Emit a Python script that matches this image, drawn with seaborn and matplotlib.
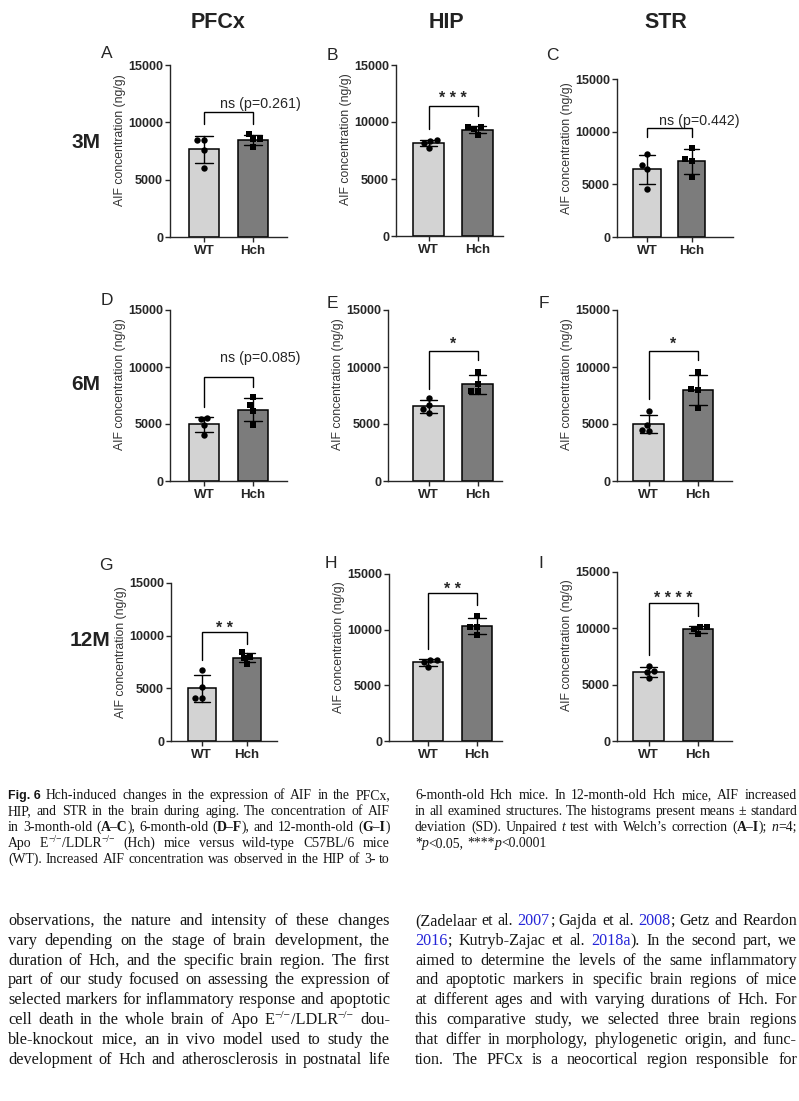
import re

import matplotlib
matplotlib.use("Agg")
import matplotlib.pyplot as plt
import matplotlib.transforms as mtransforms
import pandas as pd
import seaborn as sns

W, H = 799, 1101

GROUPS = ["WT", "Hch"]
BAR_COLORS = ["#d3d3d3", "#7c7c7c"]
MARKERS = ["o", "s"]

# AIF concentration (ng/g), n = 4 mice per group
A_WT = [8500, 8500, 7570, 6030]
A_HCH = [8970, 8510, 8510, 7860]
B_WT = [8400, 8350, 8150, 7750]
B_HCH = [9600, 9550, 9350, 8850]
C_WT = [7870, 6820, 6410, 4540]
C_HCH = [8470, 7360, 7170, 5680]
D_WT = [5550, 5400, 4900, 4050]
D_HCH = [7340, 6670, 6150, 4910]
E_WT = [7250, 6650, 6300, 5950]
E_HCH = [9590, 8480, 7900, 7900]
F_WT = [6150, 4950, 4450, 4400]
F_HCH = [9590, 8040, 7950, 6370]
G_WT = [6750, 5170, 4060, 4060]
G_HCH = [8440, 8020, 7870, 7330]
H_WT = [7300, 7250, 7100, 6650]
H_HCH = [11260, 10270, 10200, 9520]
I_WT = [6700, 6200, 6100, 5550]
I_HCH = [10150, 10100, 9950, 9500]

PANEL_DATA = {
    "A": (A_WT, A_HCH), "B": (B_WT, B_HCH), "C": (C_WT, C_HCH),
    "D": (D_WT, D_HCH), "E": (E_WT, E_HCH), "F": (F_WT, F_HCH),
    "G": (G_WT, G_HCH), "H": (H_WT, H_HCH), "I": (I_WT, I_HCH),
}

# significance label, label x, label y, bracket top, WT leg end, Hch leg end
SIGNIF = {
    "A": ("ns (p=0.261)", 1.15, 11740, 10860, 9850, 9850),
    "B": ("* * *", 0.5, 12437, 11417, 9378, 10544),
    "C": ("ns (p=0.442)", 1.17, 11099, 10306, 9450, 9450),
    "D": ("ns (p=0.085)", 1.15, 10877, 9094, 6520, 8216),
    "E": ("*", 0.5, 12368, 11404, 8070, 10614),
    "F": ("*", 0.5, 12368, 11404, 7164, 10614),
    "G": ("* *", 0.5, 11131, 10307, 7706, 9228),
    "H": ("* *", 0.5, 14072, 13263, 8263, 12216),
    "I": ("* * * *", 0.5, 13106, 12219, 7604, 11095),
}

COLUMNS = ["PFCx", "HIP", "STR"]
ROWS = ["3M", "6M", "12M"]

# layout in pixels: y-axis x, x-axis end, y of 15000, y of 0, WT centre, Hch centre
LAYOUT = {
    "A": (170, 287, 65, 237, 204, 253),
    "B": (396, 503, 65, 236, 428.5, 477.5),
    "C": (617, 733, 79, 237, 647, 691.5),
    "D": (170, 287, 310, 481, 204, 253),
    "E": (388, 502, 310, 481, 428.5, 477.5),
    "F": (617, 732, 310, 481, 648.7, 698),
    "G": (171, 277, 583, 741, 201.7, 247),
    "H": (389, 502, 574, 741, 428, 477),
    "I": (617, 732, 572, 741, 648.7, 698),
}
LETTER_POS = {
    "A": (107, 54), "B": (332, 55), "C": (552, 55),
    "D": (107, 301), "E": (332, 303), "F": (544, 303),
    "G": (106, 566), "H": (331, 564), "I": (541, 564),
}
COLUMN_POS = [(218, 22), (446, 22), (666, 22)]
ROW_POS = [(86, 143), (86, 384), (90, 640)]

CAPTION_LEFT = [
    "{f:Fig. 6} Hch-induced changes in the expression of AIF in the PFCx,",
    "HIP, and STR in the brain during aging. The concentration of AIF",
    "in 3-month-old ({b:A–C}), 6-month-old ({b:D–F}), and 12-month-old ({b:G–I})",
    "Apo E{s:−/−}/LDLR{s:−/−} (Hch) mice versus wild-type C57BL/6 mice",
    "(WT). Increased AIF concentration was observed in the HIP of 3- to",
]
CAPTION_RIGHT = [
    "6-month-old Hch mice. In 12-month-old Hch mice, AIF increased",
    "in all examined structures. The histograms present means ± standard",
    "deviation (SD). Unpaired {i:t} test with Welch’s correction ({b:A–I}); {i:n}=4;",
    "*{i:p}<0.05, ****{i:p}<0.0001",
]
BODY_LEFT = [
    "observations, the nature and intensity of these changes",
    "vary depending on the stage of brain development, the",
    "duration of Hch, and the specific brain region. The first",
    "part of our study focused on assessing the expression of",
    "selected markers for inflammatory response and apoptotic",
    "cell death in the whole brain of Apo E{s:−/−}/LDLR{s:−/−} dou-",
    "ble-knockout mice, an in vivo model used to study the",
    "development of Hch and atherosclerosis in postnatal life",
]
BODY_RIGHT = [
    "(Zadelaar et al. {c:2007}; Gajda et al. {c:2008}; Getz and Reardon",
    "{c:2016}; Kutryb-Zajac et al. {c:2018a}). In the second part, we",
    "aimed to determine the levels of the same inflammatory",
    "and apoptotic markers in specific brain regions of mice",
    "at different ages and with varying durations of Hch. For",
    "this comparative study, we selected three brain regions",
    "that differ in morphology, phylogenetic origin, and func-",
    "tion. The PFCx is a neocortical region responsible for",
]
CAPTION_Y = [799, 815, 831, 847, 863]
BODY_Y = [925, 945, 965, 984, 1004, 1024, 1044, 1064]

sns.set_style("ticks")
plt.rcParams["font.family"] = ["Liberation Sans", "DejaVu Sans"]
plt.rcParams["axes.linewidth"] = 1.0

fig = plt.figure(figsize=(W / 100, H / 100), dpi=100)
renderer = fig.canvas.get_renderer()


def fx(x):
    return x / W


def fy(y):
    return 1 - y / H


def draw_panel(key):
    wt, hch = PANEL_DATA[key]
    yax, xend, top, bot, c0, c1 = LAYOUT[key]
    ax = fig.add_axes([fx(yax), fy(bot), (xend - yax) / W, (bot - top) / H])
    df = pd.DataFrame({"group": ["WT"] * len(wt) + ["Hch"] * len(hch),
                       "AIF": wt + hch})
    sns.barplot(data=df, x="group", y="AIF", hue="group", order=GROUPS,
                hue_order=GROUPS, palette=BAR_COLORS, errorbar="sd",
                capsize=0.35, width=0.62, edgecolor="black", linewidth=1.1,
                err_kws={"color": "black", "linewidth": 1.0}, legend=False, ax=ax)
    for g, m in zip(GROUPS, MARKERS):
        sns.swarmplot(data=df[df["group"] == g], x="group", y="AIF", order=GROUPS,
                      marker=m, color="black", size=4.6, linewidth=0, ax=ax)

    unit = c1 - c0
    ax.set_xlim((yax - c0) / unit, 1 + (xend - c1) / unit)
    ax.set_ylim(0, 15000)
    ax.set_yticks([0, 5000, 10000, 15000])
    ax.set_xlabel("")
    ax.set_ylabel("AIF concentration (ng/g)", fontsize=8.8, y=0.565, labelpad=1.5,
                  color="#333333")
    sns.despine(ax=ax)
    ax.tick_params(axis="y", length=3.5, width=1.0, labelsize=9.0, pad=1.5)
    ax.tick_params(axis="x", length=3.5, width=1.0, labelsize=9.6, pad=2.5)
    for t in ax.get_yticklabels() + ax.get_xticklabels():
        t.set_fontweight("bold")

    label, lx, ly, btop, leg0, leg1 = SIGNIF[key]
    ax.plot([0, 0, 1, 1], [leg0, btop, btop, leg1], color="black", lw=1.0,
            clip_on=False, solid_joinstyle="miter")
    if label.startswith("*"):
        size, off = 11.5, 0.58 * 11.5
        weight = "bold"
    else:
        size, off = 10.3, 0.36 * 10.3
        weight = "normal"
    shift = mtransforms.ScaledTranslation(0, -off / 72, fig.dpi_scale_trans)
    ax.text(lx, ly, label, ha="center", va="baseline", fontsize=size,
            fontweight=weight, transform=ax.transData + shift, clip_on=False)

    x, y = LETTER_POS[key]
    fig.text(fx(x), fy(y), key, ha="center", va="center", fontsize=12.5)


for key in PANEL_DATA:
    draw_panel(key)

for name, (x, y) in zip(COLUMNS, COLUMN_POS):
    fig.text(fx(x), fy(y), name, ha="center", va="center", fontsize=15.5,
             fontweight="bold", color="#222222")
for name, (x, y) in zip(ROWS, ROW_POS):
    fig.text(fx(x), fy(y), name, ha="center", va="center", fontsize=15,
             fontweight="bold", color="#222222")

# ---- caption and body text, justified word by word ----
SERIF = "Liberation Serif"
INK = "#151515"
STYLES = {
    "n": dict(family=SERIF),
    "b": dict(family=SERIF, weight="bold"),
    "i": dict(family=SERIF, style="italic"),
    "c": dict(family=SERIF, color="#2424d8"),
    "s": dict(family=SERIF),
    "f": dict(family="Liberation Sans", weight="bold"),
}


def parse(line):
    words, cur = [], []
    for m in re.finditer(r"\{(\w):([^}]*)\}|([^{]+)", line):
        if m.group(3) is not None:
            for k, part in enumerate(m.group(3).split(" ")):
                if k > 0:
                    words.append(cur)
                    cur = []
                if part:
                    cur.append(("n", part))
        else:
            cur.append((m.group(1), m.group(2)))
    words.append(cur)
    return [w for w in words if w]


def seg_props(kind, size):
    p = dict(STYLES[kind])
    p.setdefault("color", INK)
    if kind == "s":
        p["size"] = size * 0.7
    elif kind == "f":
        p["size"] = size * 0.9
    else:
        p["size"] = size
    return p


def make_words(line, size):
    out = []
    for word in parse(line):
        arts = []
        for kind, s in word:
            t = fig.text(0, 0, s, ha="left", va="baseline", **seg_props(kind, size))
            arts.append((t, t.get_window_extent(renderer).width, kind))
        out.append(arts)
    return out


def natural_width(line, size):
    words = make_words(line, size)
    w = sum(a[1] for wd in words for a in wd) + 0.25 * size * 100 / 72 * (len(words) - 1)
    for wd in words:
        for a in wd:
            a[0].remove()
    return w


def draw_block(lines, x0, x1, ys, max_size, justify_last):
    need = max(natural_width(l, 10) for l in lines[:-1] if l) / (x1 - x0)
    size = min(max_size, 10 / need * 0.99)
    for i, (line, y) in enumerate(zip(lines, ys)):
        words = make_words(line, size)
        widths = [sum(a[1] for a in wd) for wd in words]
        justify = justify_last or i < len(lines) - 1
        if justify and len(words) > 1:
            gap = (x1 - x0 - sum(widths)) / (len(words) - 1)
        else:
            gap = 0.25 * size * 100 / 72
        x = x0
        for wd, ww in zip(words, widths):
            cx = x
            for t, w, kind in wd:
                dy = 0.36 * size * 100 / 72 if kind == "s" else 0
                t.set_position((fx(cx), fy(y - dy)))
                cx += w
            x += ww + gap


draw_block(CAPTION_LEFT, 8, 390, CAPTION_Y, 14, True)
draw_block(CAPTION_RIGHT, 415, 797, CAPTION_Y, 14, False)
draw_block(BODY_LEFT, 8, 390, BODY_Y, 14, True)
draw_block(BODY_RIGHT, 415, 797, BODY_Y, 14, True)

fig.savefig("out.png", dpi=100, facecolor="white")
